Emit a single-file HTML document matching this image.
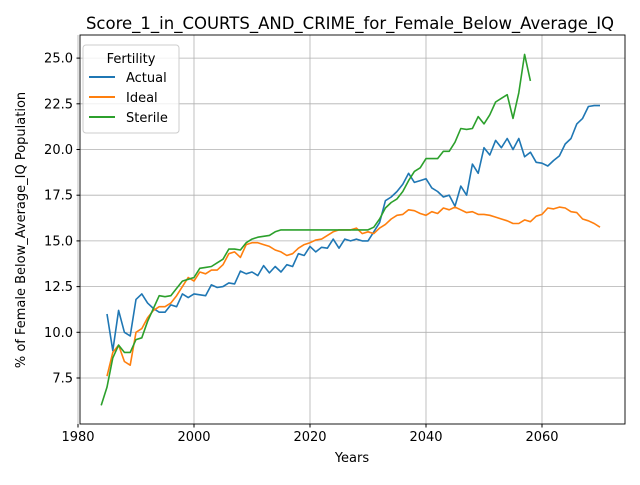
<!DOCTYPE html>
<html><head><meta charset="utf-8"><style>
body{margin:0;background:#fff;font-family:"Liberation Sans","DejaVu Sans",sans-serif;}
svg text{font-family:"DejaVu Sans","Liberation Sans",sans-serif;}
</style></head><body>
<svg id="chart" width="640" height="480" xmlns="http://www.w3.org/2000/svg">
<rect width="640" height="480" fill="#fff"/>
<text x="350" y="29" text-anchor="middle" font-size="16.5">Score_1_in_COURTS_AND_CRIME_for_Female_Below_Average_IQ</text>
<g id="grid"></g><g id="series"></g>
<rect x="80" y="35" width="545" height="389" fill="none" stroke="#000" stroke-width="0.9"/>
<g id="ticks"></g>
<text x="352" y="462" text-anchor="middle" font-size="13">Years</text>
<text transform="translate(25,230) rotate(-90)" text-anchor="middle" font-size="13">% of Female Below_Average_IQ Population</text>
<g>
<rect x="83" y="45" width="96" height="88" rx="3" fill="#fff" fill-opacity="0.8" stroke="#ccc"/>
<text x="131" y="63" text-anchor="middle" font-size="13">Fertility</text>
<g><line x1="89" y1="77" x2="115" y2="77" stroke="#1f77b4" stroke-width="2"/><text x="126" y="82" font-size="13">Actual</text></g>
<g><line x1="89" y1="97" x2="115" y2="97" stroke="#ff7f0e" stroke-width="2"/><text x="126" y="102" font-size="13">Ideal</text></g>
<g><line x1="89" y1="117" x2="115" y2="117" stroke="#2ca02c" stroke-width="2"/><text x="126" y="122" font-size="13">Sterile</text></g>
</g>
</svg>
<script>
const actualStart=1985;
const actual=[11.0,9.0,11.2,10.0,9.8,11.8,12.1,11.6,11.3,11.1,11.1,11.5,11.4,12.1,11.9,12.1,12.05,12.0,12.6,12.45,12.5,12.7,12.65,13.35,13.2,13.3,13.1,13.65,13.25,13.6,13.3,13.7,13.6,14.3,14.2,14.7,14.4,14.65,14.6,15.1,14.6,15.1,15.0,15.1,15.0,15.0,15.5,16.0,17.2,17.4,17.7,18.1,18.7,18.2,18.3,18.4,17.9,17.7,17.4,17.5,16.9,18.0,17.5,19.2,18.7,20.1,19.7,20.5,20.1,20.6,20.0,20.6,19.6,19.85,19.3,19.25,19.1,19.4,19.65,20.3,20.6,21.4,21.7,22.35,22.4,22.4];
const idealStart=1985;
const ideal=[7.6,8.9,9.3,8.4,8.2,10.0,10.2,10.8,11.2,11.4,11.4,11.6,12.0,12.5,13.0,12.8,13.3,13.2,13.4,13.4,13.7,14.3,14.4,14.1,14.8,14.9,14.9,14.8,14.7,14.5,14.4,14.2,14.3,14.6,14.8,14.9,15.05,15.1,15.3,15.5,15.6,15.6,15.6,15.7,15.4,15.5,15.4,15.7,15.9,16.2,16.4,16.45,16.7,16.65,16.5,16.4,16.6,16.5,16.8,16.7,16.85,16.7,16.55,16.6,16.45,16.45,16.4,16.3,16.2,16.1,15.95,15.95,16.15,16.05,16.35,16.45,16.8,16.75,16.85,16.8,16.6,16.55,16.2,16.1,15.95,15.75];
const sterileStart=1984;
const sterile=[6.0,7.0,8.6,9.3,8.9,8.9,9.6,9.7,10.6,11.3,12.0,11.95,12.0,12.4,12.8,12.9,13.0,13.5,13.55,13.6,13.8,14.0,14.55,14.55,14.5,14.9,15.1,15.2,15.25,15.3,15.5,15.6,15.6,15.6,15.6,15.6,15.6,15.6,15.6,15.6,15.6,15.6,15.6,15.6,15.6,15.6,15.6,15.75,16.2,16.8,17.1,17.3,17.7,18.3,18.8,19.0,19.5,19.5,19.5,19.9,19.9,20.4,21.15,21.1,21.15,21.8,21.4,21.9,22.6,22.8,23.0,21.7,23.1,25.2,23.75];
const xTicks=[1980,2000,2020,2040,2060];
const yTicks=[7.5,10.0,12.5,15.0,17.5,20.0,22.5,25.0];
const NS="http://www.w3.org/2000/svg";
function xs(v){return 78+(v-1980)*5.8;}
function ys(v){return 378-(v-7.5)*18.28;}
const grid=document.getElementById('grid'),ticks=document.getElementById('ticks'),ser=document.getElementById('series');
function mk(tag,attrs,parent){const e=document.createElementNS(NS,tag);for(const k in attrs)e.setAttribute(k,attrs[k]);parent.appendChild(e);return e;}
xTicks.forEach(t=>{const x=xs(t);
const g=mk('line',{x1:x,x2:x,y1:35,y2:424,stroke:'#b0b0b0','stroke-width':0.8},grid);


mk('line',{x1:x,x2:x,y1:424,y2:427.5,stroke:'#000'},ticks);
const tx=mk('text',{x:x,y:441,'text-anchor':'middle','font-size':13},ticks);tx.textContent=t;

});
yTicks.forEach(t=>{const y=ys(t);
const g=mk('line',{x1:80,x2:625,y1:y,y2:y,stroke:'#b0b0b0','stroke-width':0.8},grid);


mk('line',{x1:76.5,x2:80,y1:y,y2:y,stroke:'#000'},ticks);
const tx=mk('text',{x:73,y:y+4.5,'text-anchor':'end','font-size':13},ticks);tx.textContent=t.toFixed(1);

});
function line(data,start,color,name){const pts=data.map((v,i)=>xs(start+i).toFixed(1)+','+ys(v).toFixed(1)).join(' ');
const p=mk('polyline',{points:pts,fill:'none',stroke:color,'stroke-width':1.6,'stroke-linejoin':'round'},ser);

}
line(actual,actualStart,'#1f77b4','actual-line');
line(ideal,idealStart,'#ff7f0e','ideal-line');
line(sterile,sterileStart,'#2ca02c','sterile-line');
</script>
</body></html>
